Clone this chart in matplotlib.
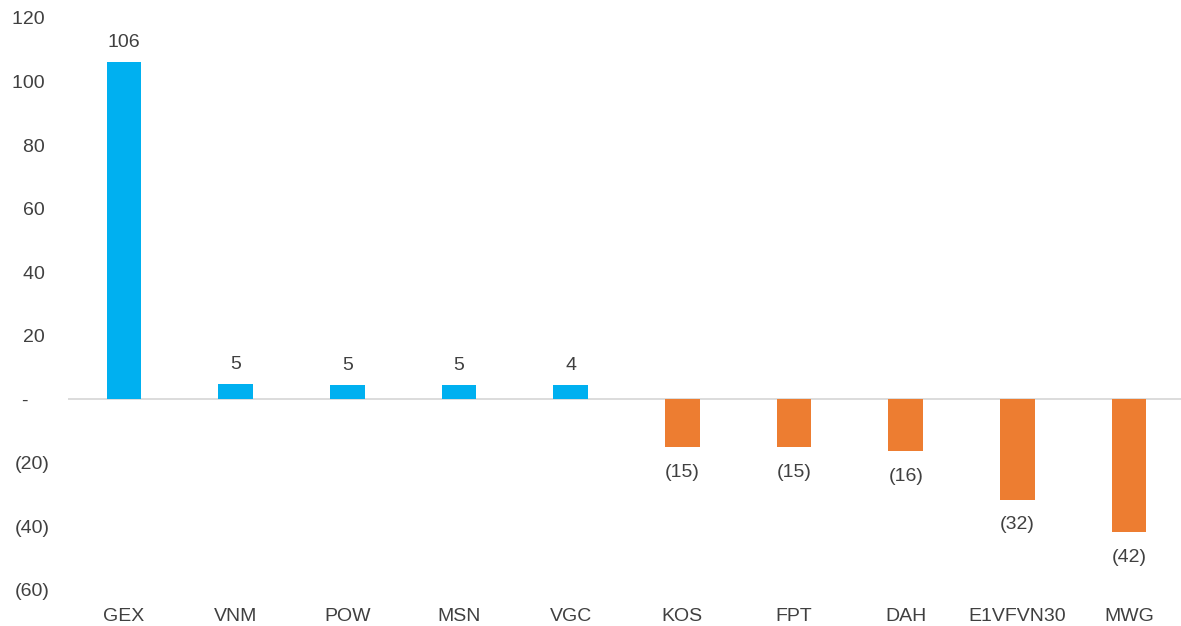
import matplotlib
matplotlib.use("Agg")
import matplotlib.pyplot as plt

tickers = ["GEX", "VNM", "POW", "MSN", "VGC", "KOS", "FPT", "DAH", "E1VFVN30", "MWG"]
values = [106.2, 4.7, 4.6, 4.6, 4.4, -15.1, -15.0, -16.4, -31.6, -41.8]
y_ticks = [-60, -40, -20, 0, 20, 40, 60, 80, 100, 120]

BLUE = "#00B0F0"
ORANGE = "#ED7D31"
TEXT = "#404040"

plt.rcParams["font.family"] = ["Liberation Sans", "DejaVu Sans"]


def acct(v, pad=False):
    v = round(v)
    if v == 0:
        return "-    " if pad else "-"
    if v < 0:
        return f"({abs(v)})"
    return f"{v} " if pad else f"{v}"


fig = plt.figure(figsize=(11.81, 6.26), dpi=100)
ax = fig.add_axes([68 / 1181, 1 - 590 / 626, 1117 / 1181, 572 / 626])

x = list(range(len(tickers)))
colors = [BLUE if v >= 0 else ORANGE for v in values]
bars = ax.bar(x, values, width=0.31, color=colors, zorder=2)

for b, v in zip(bars, values):
    cx = b.get_x() + b.get_width() / 2
    if v >= 0:
        ax.annotate(acct(v), (cx, v), xytext=(0, 8), textcoords="offset points",
                    ha="center", va="bottom", fontsize=14, color=TEXT)
    else:
        ax.annotate(acct(v), (cx, v), xytext=(0, -12), textcoords="offset points",
                    ha="center", va="top", fontsize=14, color=TEXT)

ax.axhline(0, color="#D9D9D9", lw=1.3, zorder=1)

ax.set_xlim(-0.5, 9.5)
ax.set_ylim(-60, 120)
ax.set_yticks(y_ticks)
ax.set_yticklabels([acct(t, pad=True) for t in y_ticks])
ax.set_xticks(x)
ax.set_xticklabels(tickers)
ax.tick_params(axis="both", length=0, labelsize=14, colors=TEXT)
ax.tick_params(axis="y", pad=13)
ax.tick_params(axis="x", pad=13)
for s in ax.spines.values():
    s.set_visible(False)

fig.savefig("out.png", dpi=100)
